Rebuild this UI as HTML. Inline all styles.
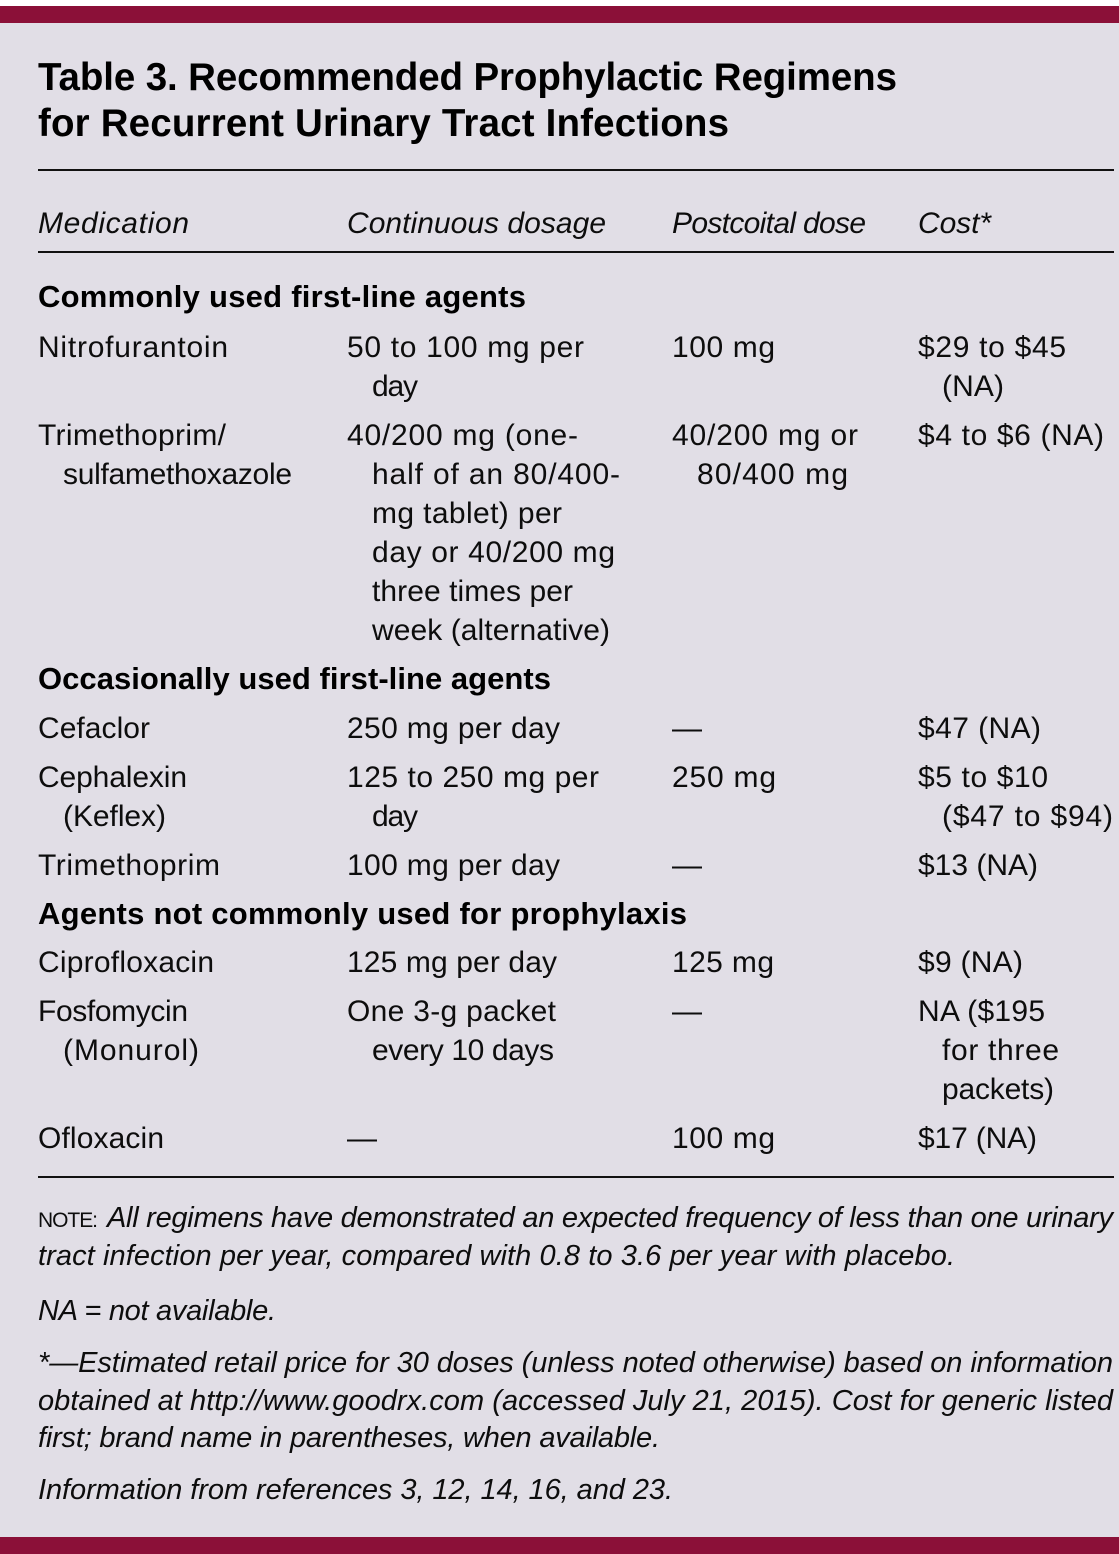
<!DOCTYPE html>
<html>
<head>
<meta charset="utf-8">
<style>
html,body{margin:0;padding:0;background:#e1dee6;}
svg{display:block;}
text{font-family:"Liberation Sans",Arial,sans-serif;fill:#0d0d0d;}
.t{font-size:38.5px;font-weight:bold;fill:#000;}
.b{font-size:30px;}
.h{font-size:30px;font-style:italic;}
.s{font-size:31px;font-weight:bold;fill:#000;}
.f{font-size:29px;font-style:italic;}
.sc{font-size:21px;}
</style>
</head>
<body>
<svg width="1119" height="1554" viewBox="0 0 1119 1554" xmlns="http://www.w3.org/2000/svg">
<rect x="0" y="0" width="1119" height="1554" fill="#e1dee6"/>
<rect x="0" y="0" width="1119" height="6" fill="#ffffff"/>
<rect x="0" y="6" width="1119" height="17" fill="#8b1038"/>
<rect x="0" y="1537" width="1119" height="17" fill="#8b1038"/>

<!-- Title -->
<text class="t" x="38" y="90" textLength="859">Table 3. Recommended Prophylactic Regimens</text>
<text class="t" x="38" y="136" textLength="691">for Recurrent Urinary Tract Infections</text>

<rect x="38" y="169" width="1076" height="2" fill="#111"/>

<!-- Header -->
<text class="h" x="38" y="233" textLength="151">Medication</text>
<text class="h" x="347" y="233" textLength="259">Continuous dosage</text>
<text class="h" x="672" y="233" textLength="194">Postcoital dose</text>
<text class="h" x="918" y="233" textLength="73">Cost*</text>

<rect x="38" y="251" width="1076" height="2" fill="#111"/>

<!-- Section 1 -->
<text class="s" x="38" y="307" textLength="488">Commonly used first-line agents</text>

<text class="b" x="38" y="357" textLength="190">Nitrofurantoin</text>
<text class="b" x="347" y="357" textLength="237">50 to 100 mg per</text>
<text class="b" x="672" y="357" textLength="103">100 mg</text>
<text class="b" x="918" y="357" textLength="148">$29 to $45</text>
<text class="b" x="372" y="396" textLength="46">day</text>
<text class="b" x="942" y="396" textLength="62">(NA)</text>

<text class="b" x="38" y="445" textLength="188">Trimethoprim/</text>
<text class="b" x="347" y="445" textLength="231">40/200 mg (one-</text>
<text class="b" x="672" y="445" textLength="186">40/200 mg or</text>
<text class="b" x="918" y="445" textLength="186">$4 to $6 (NA)</text>
<text class="b" x="63" y="484" textLength="229">sulfamethoxazole</text>
<text class="b" x="372" y="484" textLength="248">half of an 80/400-</text>
<text class="b" x="697" y="484" textLength="151">80/400 mg</text>
<text class="b" x="372" y="523" textLength="190">mg tablet) per</text>
<text class="b" x="372" y="562" textLength="243">day or 40/200 mg</text>
<text class="b" x="372" y="601" textLength="201">three times per</text>
<text class="b" x="372" y="640" textLength="238">week (alternative)</text>

<!-- Section 2 -->
<text class="s" x="38" y="689" textLength="513">Occasionally used first-line agents</text>

<text class="b" x="38" y="738" textLength="112">Cefaclor</text>
<text class="b" x="347" y="738" textLength="213">250 mg per day</text>
<text class="b" x="672" y="738">—</text>
<text class="b" x="918" y="738" textLength="123">$47 (NA)</text>

<text class="b" x="38" y="787" textLength="149">Cephalexin</text>
<text class="b" x="347" y="787" textLength="252">125 to 250 mg per</text>
<text class="b" x="672" y="787" textLength="104">250 mg</text>
<text class="b" x="918" y="787" textLength="130">$5 to $10</text>
<text class="b" x="63" y="826" textLength="103">(Keflex)</text>
<text class="b" x="372" y="826" textLength="46">day</text>
<text class="b" x="942" y="826" textLength="171">($47 to $94)</text>

<text class="b" x="38" y="875" textLength="182">Trimethoprim</text>
<text class="b" x="347" y="875" textLength="213">100 mg per day</text>
<text class="b" x="672" y="875">—</text>
<text class="b" x="918" y="875" textLength="120">$13 (NA)</text>

<!-- Section 3 -->
<text class="s" x="38" y="924" textLength="649">Agents not commonly used for prophylaxis</text>

<text class="b" x="38" y="972" textLength="176">Ciprofloxacin</text>
<text class="b" x="347" y="972" textLength="210">125 mg per day</text>
<text class="b" x="672" y="972" textLength="102">125 mg</text>
<text class="b" x="918" y="972" textLength="105">$9 (NA)</text>

<text class="b" x="38" y="1021" textLength="150">Fosfomycin</text>
<text class="b" x="347" y="1021" textLength="209">One 3-g packet</text>
<text class="b" x="672" y="1021">—</text>
<text class="b" x="918" y="1021" textLength="127">NA ($195</text>
<text class="b" x="63" y="1060" textLength="136">(Monurol)</text>
<text class="b" x="372" y="1060" textLength="182">every 10 days</text>
<text class="b" x="942" y="1060" textLength="117">for three</text>
<text class="b" x="942" y="1099" textLength="112">packets)</text>

<text class="b" x="38" y="1148" textLength="126">Ofloxacin</text>
<text class="b" x="347" y="1148">—</text>
<text class="b" x="672" y="1148" textLength="103">100 mg</text>
<text class="b" x="918" y="1148" textLength="119">$17 (NA)</text>

<rect x="38" y="1176" width="1076" height="2" fill="#111"/>

<!-- Footnotes -->
<text class="sc" x="38" y="1227" textLength="60">NOTE:</text>
<text class="f" x="107" y="1227" textLength="1006">All regimens have demonstrated an expected frequency of less than one urinary</text>
<text class="f" x="38" y="1265" textLength="917">tract infection per year, compared with 0.8 to 3.6 per year with placebo.</text>
<text class="f" x="38" y="1320" textLength="238">NA = not available.</text>
<text class="f" x="38" y="1372" textLength="1075">*—Estimated retail price for 30 doses (unless noted otherwise) based on information</text>
<text class="f" x="38" y="1410" textLength="1075">obtained at http://www.goodrx.com (accessed July 21, 2015). Cost for generic listed</text>
<text class="f" x="38" y="1447" textLength="622">first; brand name in parentheses, when available.</text>
<text class="f" x="38" y="1499" textLength="635">Information from references 3, 12, 14, 16, and 23.</text>
</svg>
</body>
</html>
